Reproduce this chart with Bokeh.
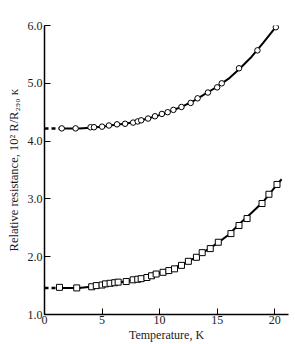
from bokeh.plotting import figure
from bokeh.embed import file_html
from bokeh.resources import INLINE
from bokeh.models import Range1d, FixedTicker, NumeralTickFormatter

# measured points (upper series: circles)
temp_circ = [1.5, 2.7, 4.0, 4.3, 5.0, 5.6, 6.3, 7.0, 7.7, 8.1, 8.4, 9.0, 9.6, 10.2, 10.7,
             11.2, 11.9, 12.7, 13.3, 14.2, 15.0, 15.4, 16.9, 18.5, 20.1]
res_circ = [4.22, 4.22, 4.24, 4.24, 4.25, 4.27, 4.29, 4.30, 4.32, 4.34, 4.36, 4.39, 4.43, 4.47, 4.50,
            4.54, 4.59, 4.66, 4.74, 4.84, 4.93, 5.00, 5.26, 5.57, 5.97]

# measured points (lower series: squares)
temp_sq = [1.3, 2.8, 4.1, 4.5, 5.0, 5.3, 5.7, 6.1, 6.4, 7.1, 7.7, 8.1, 8.4, 8.9, 9.3, 9.7,
           10.3, 10.8, 11.3, 11.9, 12.5, 13.2, 13.7, 14.4, 15.1, 16.2, 16.9, 17.6, 18.9, 19.5, 20.2]
res_sq = [1.47, 1.46, 1.48, 1.50, 1.51, 1.53, 1.54, 1.55, 1.56, 1.57, 1.60, 1.61, 1.62, 1.64, 1.67, 1.70,
          1.73, 1.76, 1.79, 1.85, 1.92, 1.99, 2.07, 2.14, 2.25, 2.40, 2.54, 2.66, 2.92, 3.08, 3.25]

# drawn curves
fit_up_x = [1.5, 3, 4, 5, 6, 7, 8, 9, 10, 11, 12, 13, 14, 15, 16, 17, 18, 19, 20, 20.3]
fit_up_y = [4.22, 4.22, 4.23, 4.25, 4.28, 4.30, 4.34, 4.39, 4.45, 4.52, 4.60, 4.70, 4.82, 4.94,
            5.08, 5.26, 5.46, 5.70, 5.95, 6.03]
fit_lo_x = [1.3, 3, 4, 5, 6, 7, 8, 9, 10, 11, 12, 13, 14, 15, 16, 17, 18, 19, 20, 20.6]
fit_lo_y = [1.46, 1.46, 1.48, 1.51, 1.54, 1.57, 1.61, 1.65, 1.72, 1.79, 1.87, 1.97, 2.10, 2.23,
            2.38, 2.58, 2.76, 2.95, 3.20, 3.34]
ext_up_x = [0, 1.5]
ext_up_y = [4.22, 4.22]
ext_lo_x = [0, 1.3]
ext_lo_y = [1.46, 1.46]

x_ticks = [0, 5, 10, 15, 20]
y_ticks = [1.0, 2.0, 3.0, 4.0, 5.0, 6.0]
y_title = "Relative resistance, 10² R/R₂₉₀ ᴋ"
x_title = "Temperature, K"

SERIF = "Liberation Serif"

p = figure(width=295, height=344, output_backend="svg", toolbar_location=None,
           x_range=Range1d(0, 21.2), y_range=Range1d(1.0, 6.0),
           min_border_left=44, min_border_right=7, min_border_top=25, min_border_bottom=30)
p.outline_line_color = None
p.xgrid.visible = False
p.ygrid.visible = False
p.background_fill_color = "white"
p.border_fill_color = "white"

p.line(ext_up_x, ext_up_y, line_color="black", line_width=2.5, line_dash="4 3")
p.line(ext_lo_x, ext_lo_y, line_color="black", line_width=2.5, line_dash="4 3")
p.line(fit_up_x, fit_up_y, line_color="black", line_width=2)
p.line(fit_lo_x, fit_lo_y, line_color="black", line_width=2)
p.scatter(temp_circ, res_circ, marker="circle", size=5.5, fill_color="white",
          line_color="black", line_width=1)
p.scatter(temp_sq, res_sq, marker="square", size=6, fill_color="white",
          line_color="black", line_width=1)

for ax in (p.xaxis[0], p.yaxis[0]):
    ax.axis_line_color = "black"
    ax.axis_line_width = 1.5
    ax.major_tick_line_color = "black"
    ax.major_tick_in = 6
    ax.major_tick_out = 0
    ax.minor_tick_line_color = None
    ax.major_label_text_font = SERIF
    ax.major_label_text_font_size = "12px"
    ax.major_label_text_color = "#1a1a1a"
    ax.axis_label_text_font = SERIF
    ax.axis_label_text_font_size = "12.5px"
    ax.axis_label_text_font_style = "normal"
    ax.axis_label_text_color = "#1a1a1a"

p.xaxis.ticker = FixedTicker(ticks=x_ticks)
p.yaxis.ticker = FixedTicker(ticks=y_ticks)
p.yaxis.formatter = NumeralTickFormatter(format="0.0")
p.xaxis.axis_label = x_title
p.yaxis.axis_label = y_title
p.xaxis.axis_label_text_font_size = "12px"
p.xaxis.major_label_standoff = 1
p.yaxis.major_label_standoff = 2
p.xaxis.axis_label_standoff = 1
p.yaxis.axis_label_standoff = 4

open("out.html", "w").write(file_html(p, INLINE))
